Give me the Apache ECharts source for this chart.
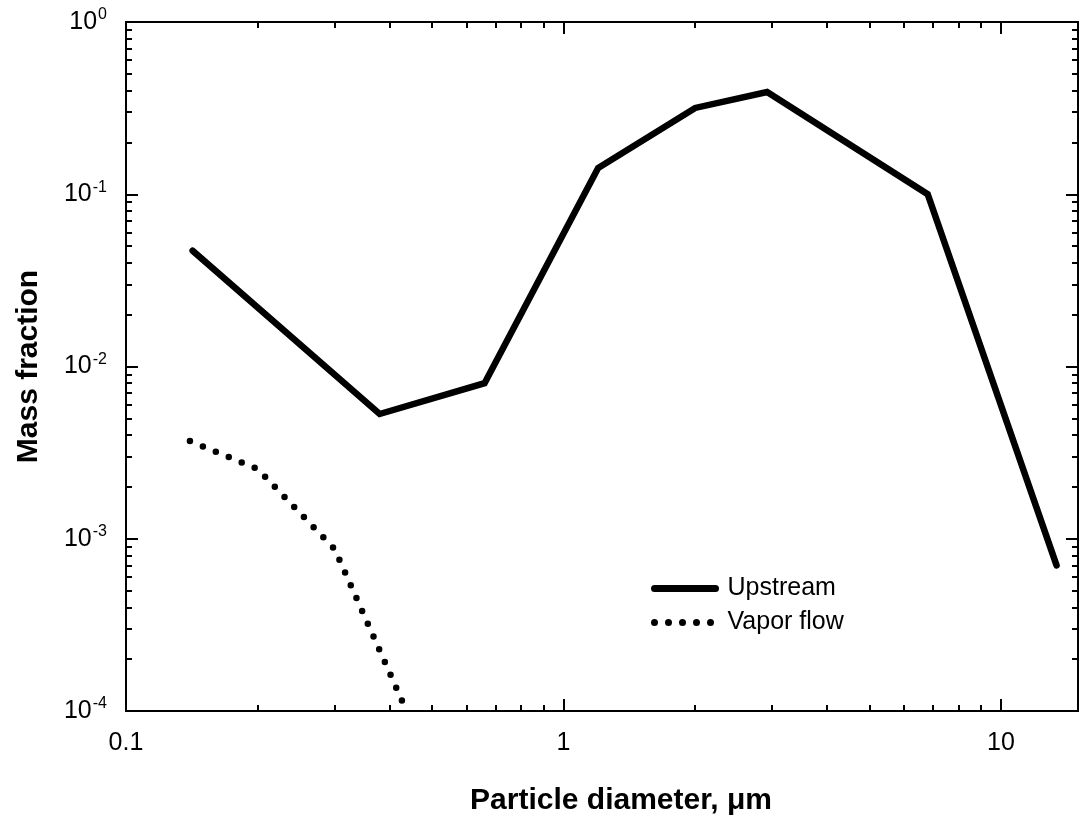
<!DOCTYPE html>
<html>
<head>
<meta charset="utf-8">
<script src="https://cdn.jsdelivr.net/npm/echarts@6/dist/echarts.min.js"></script>
<style>html,body{margin:0;padding:0;background:#fff}#c{width:1079px;height:823px}</style>
</head>
<body>
<div id="c"></div>
<script>
// Data
const upstreamX = [0.142, 0.38, 0.66, 1.2, 2.0, 2.92, 6.8, 13.4];
const upstreamY = [0.047, 0.0053, 0.0080, 0.142, 0.317, 0.392, 0.100, 0.00070];
const vaporX = [0.140, 0.200, 0.300, 0.432];
const vaporY = [0.00369, 0.00254, 0.00087, 0.000108];
const xTickValues = [0.1, 1, 10];
const xTickLabels = ['0.1', '1', '10'];
const yTickValues = [1, 0.1, 0.01, 0.001, 0.0001];
const yTickExponents = ['0', '-1', '-2', '-3', '-4'];
const seriesNames = ['Upstream', 'Vapor flow'];

const xMinor = [], yMinor = [];
[0.1, 1, 10].forEach(d => { for (let k = 2; k <= 9; k++) { const v = +(d * k).toPrecision(3); if (v <= 15) xMinor.push(v); } });
[0.0001, 0.001, 0.01, 0.1].forEach(d => { for (let k = 2; k <= 9; k++) yMinor.push(+(d * k).toPrecision(3)); });

const font = 'Liberation Sans, Arial, sans-serif';
const chart = echarts.init(document.getElementById('c'));

function xAx(pos, major, withLabel, extra) {
  return Object.assign({
    type: 'log', logBase: 10, min: 0.1, max: 15, position: pos, gridIndex: 0,
    axisLine: { show: false },
    splitLine: { show: false },
    minorTick: { show: false },
    axisTick: { show: true, inside: true, length: major ? 12 : 6, lineStyle: { color: '#000', width: 2 },
      customValues: major ? xTickValues : xMinor },
    axisLabel: { show: withLabel, customValues: xTickValues, margin: 20, color: '#000', fontSize: 25, fontFamily: font,
      formatter: v => { const i = xTickValues.findIndex(t => Math.abs(Math.log10(t) - Math.log10(v)) < 1e-6); return i >= 0 ? xTickLabels[i] : ''; } }
  }, extra || {});
}
function yAx(pos, major, withLabel, extra) {
  return Object.assign({
    type: 'log', logBase: 10, min: 0.0001, max: 1, position: pos, gridIndex: 0,
    axisLine: { show: false },
    splitLine: { show: false },
    minorTick: { show: false },
    axisTick: { show: true, inside: true, length: major ? 12 : 6, lineStyle: { color: '#000', width: 2 },
      customValues: major ? yTickValues : yMinor },
    axisLabel: { show: withLabel, customValues: yTickValues, margin: 19, color: '#000', fontFamily: font,
      formatter: v => { const e = Math.round(Math.log10(v)); const i = yTickValues.findIndex(t => Math.round(Math.log10(t)) === e); return '{b|10}{s|' + yTickExponents[i] + '}'; },
      rich: { b: { fontSize: 25, fontFamily: font, color: '#000' }, s: { fontSize: 16, fontFamily: font, color: '#000', verticalAlign: 'top', padding: [0, 0, 14, 1] } } }
  }, extra || {});
}

chart.setOption({
  animation: false,
  backgroundColor: '#fff',
  grid: { left: 126, top: 22, right: 1, bottom: 112, show: true, borderColor: '#000', borderWidth: 2, backgroundColor: 'transparent' },
  xAxis: [
    xAx('bottom', true, true, { name: 'Particle diameter, μm', nameLocation: 'middle', nameGap: 75,
      nameTextStyle: { fontSize: 30, fontWeight: 'bold', color: '#000', fontFamily: font, padding: [0, 0, 0, 38] } }),
    xAx('bottom', false, false),
    xAx('top', true, false),
    xAx('top', false, false)
  ],
  yAxis: [
    yAx('left', true, true, { name: 'Mass fraction', nameLocation: 'middle', nameGap: 82,
      nameTextStyle: { fontSize: 30, fontWeight: 'bold', color: '#000', fontFamily: font } }),
    yAx('left', false, false),
    yAx('right', true, false),
    yAx('right', false, false)
  ],
  legend: {
    orient: 'vertical', left: 651, top: 576, padding: 0, itemWidth: 61, itemHeight: 14, itemGap: 9,
    data: seriesNames,
    itemStyle: { opacity: 0 },
    lineStyle: { width: 7, cap: 'round' },
    textStyle: { fontSize: 25, fontFamily: font, color: '#000', padding: [0, 0, 0, 7] }
  },
  series: [
    { name: seriesNames[0], type: 'line', xAxisIndex: 0, yAxisIndex: 0, symbol: 'none', clip: true,
      data: upstreamX.map((x, i) => [x, upstreamY[i]]),
      lineStyle: { color: '#000', width: 6.5, cap: 'round', join: 'miter' }, itemStyle: { color: '#000' } },
    { name: seriesNames[1], type: 'line', xAxisIndex: 0, yAxisIndex: 0, symbol: 'none', clip: true,
      data: vaporX.map((x, i) => [x, vaporY[i]]),
      lineStyle: { color: '#000', width: 6.5, type: [0, 14], cap: 'round' }, itemStyle: { color: '#000' } }
  ]
});
</script>
</body>
</html>
